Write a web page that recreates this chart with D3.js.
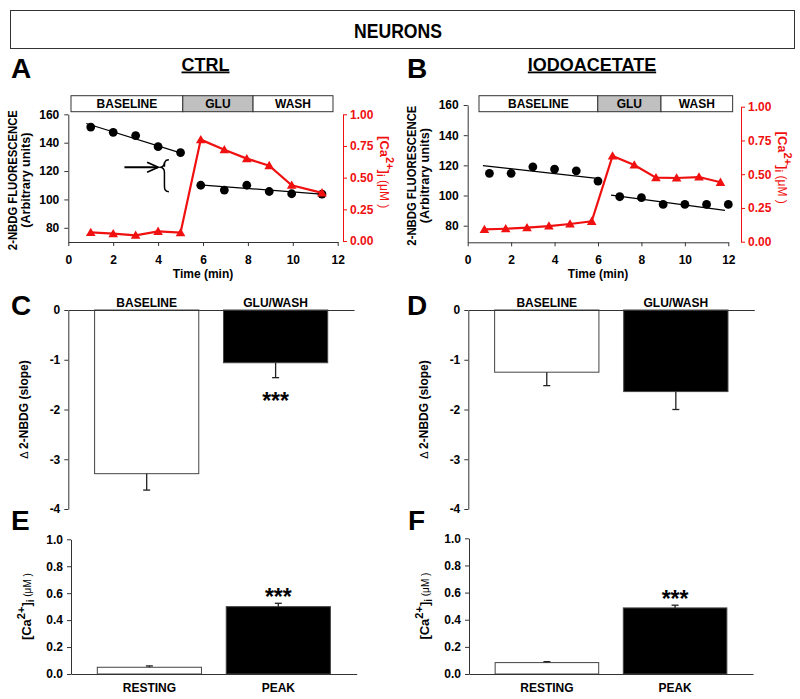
<!DOCTYPE html>
<html><head><meta charset="utf-8">
<script src="https://cdn.jsdelivr.net/npm/d3@7"></script>
<style>
body{margin:0;background:#fff;}
svg{display:block;font-family:"Liberation Sans",Arial,Helvetica,sans-serif;}
</style></head><body>
<svg id="c" width="800" height="699"></svg>
<script>
// ---------------- DATA ----------------
const figTitle = "NEURONS";
const xTicks = [0,2,4,6,8,10,12];
const nbdgTicks = [80,100,120,140,160];
const caTicks = [0,0.25,0.5,0.75,1];

const phaseLabels = ["BASELINE","GLU","WASH"];
const ctrlPhaseEdges = [0.12,5.1,8.23,11.79];
const iodoPhaseEdges = [0.52,5.99,8.9,12.2];

// CTRL time course
const ctrlTime = [1,2,3,4,5,5.9,6.95,7.95,8.95,9.95,11.3];
const ctrlNbdg = [151,147.3,145,137.2,133,110,106.6,110,105.6,104,103.8];
const ctrlCa   = [0.068,0.058,0.045,0.076,0.066,0.80,0.72,0.65,0.595,0.44,0.38];
const ctrlFit1 = [[0.8,153.5],[5.1,132.3]];
const ctrlFit2 = [[5.85,110.3],[11.4,103.6]];

// IODOACETATE time course
const iodoTime   = [1,2,3,4,5,6,7,8,9,10,11,12];
const iodoNbdg   = [114.7,114.7,119,117.5,116.4,109.6,99.2,98.6,94.1,94.1,94.1,94.1];
const iodoCaTime = [0.77,1.75,2.73,3.74,4.71,5.71,6.67,7.67,8.67,9.62,10.65,11.64];
const iodoCa     = [0.091,0.096,0.104,0.116,0.131,0.151,0.635,0.568,0.474,0.472,0.479,0.44];
const iodoFit1 = [[0.7,119.8],[5.95,111.4]];
const iodoFit2 = [[6.6,100.3],[11.85,90.2]];

// Slope bars (C, D)
const slopeCats = ["BASELINE","GLU/WASH"];
const slopeTicks = [0,-1,-2,-3,-4];
const ctrlSlope = [-3.29,-1.06];
const ctrlSlopeErr = [0.33,0.30];
const ctrlSlopeSig = ["","***"];
const iodoSlope = [-1.25,-1.64];
const iodoSlopeErr = [0.27,0.36];
const iodoSlopeSig = ["",""];

// Calcium bars (E, F)
const caCats = ["RESTING","PEAK"];
const caBarTicks = [0,0.2,0.4,0.6,0.8,1.0];
const ctrlCaBar = [0.05,0.50];
const ctrlCaBarErr = [0.01,0.025];
const ctrlCaSig = ["","***"];
const iodoCaBar = [0.084,0.487];
const iodoCaBarErr = [0.007,0.02];
const iodoCaSig = ["","***"];

// ---------------- DRAW ----------------
const svg = d3.select("#c");
const RED = "#f01010";
const AX = "#333";

// figure title box
svg.append("rect").attr("x",10.5).attr("y",10.5).attr("width",784).attr("height",38)
  .attr("fill","#fff").attr("stroke",AX);
svg.append("text").attr("x",398).attr("y",38).attr("text-anchor","middle")
  .attr("font-size",20).attr("font-weight","bold").attr("textLength",88)
  .attr("lengthAdjust","spacingAndGlyphs").text(figTitle);

function styleAxis(g, color){
  g.selectAll("path.domain").attr("stroke",color||AX);
  g.selectAll(".tick line").attr("stroke",color||AX);
  g.selectAll(".tick text").attr("font-size",12).attr("font-weight","bold")
    .attr("font-family",'"Liberation Sans",Arial,sans-serif').attr("fill",color||"#000");
}

function letter(txt,x,y){
  svg.append("text").attr("x",x).attr("y",y).attr("font-size",28).attr("font-weight","bold").text(txt);
}

function tsPanel(o){
  const g = svg.append("g");
  const x = d3.scaleLinear().domain([0,12]).range(o.xr);
  const yl = d3.scaleLinear().domain(o.ld).range(o.lr);
  const yr = d3.scaleLinear().domain([0,1]).range(o.rr);

  // title
  g.append("text").attr("x",o.titleX).attr("y",70.5).attr("text-anchor","middle")
    .attr("font-size",18).attr("font-weight","bold").attr("text-decoration","underline").text(o.title);

  // phase boxes
  const ph = phaseLabels.map((l,i)=>({l, s:o.phases[i], e:o.phases[i+1]}));
  g.selectAll("rect.ph").data(ph).join("rect").attr("class","ph")
    .attr("x",d=>x(d.s)).attr("width",d=>x(d.e)-x(d.s))
    .attr("y",95.7).attr("height",16)
    .attr("fill",d=>d.l==="GLU"?"#c0c0c0":"#fff").attr("stroke",AX);
  g.selectAll("text.ph").data(ph).join("text").attr("class","ph")
    .attr("x",d=>(x(d.s)+x(d.e))/2).attr("y",108.2).attr("text-anchor","middle")
    .attr("font-size",12).attr("font-weight","bold").text(d=>d.l);

  // axes
  const xa = g.append("g").attr("transform",`translate(0,${o.lr[0]})`)
    .call(d3.axisBottom(x).tickValues(xTicks).tickSize(4).tickSizeOuter(0).tickPadding(9).tickFormat(d3.format("d")));
  styleAxis(xa);
  const la = g.append("g").attr("transform",`translate(${o.xr[0]},0)`)
    .call(d3.axisLeft(yl).tickValues(nbdgTicks).tickSize(4).tickSizeOuter(0).tickPadding(5));
  styleAxis(la);
  const ra = g.append("g").attr("transform",`translate(${o.rx},0)`)
    .call(d3.axisRight(yr).tickValues(caTicks).tickSize(4).tickSizeOuter(0).tickPadding(3).tickFormat(d3.format(".2f")));
  styleAxis(ra, RED);

  // axis titles
  const ym = (o.lr[0]+o.lr[1])/2;
  g.append("text").attr("transform",`translate(${o.xr[0]-51.6},${ym+2}) rotate(-90)`).attr("text-anchor","middle")
    .attr("font-size",12).attr("font-weight","bold").attr("textLength",140)
    .attr("lengthAdjust","spacingAndGlyphs").text("2-NBDG FLUORESCENCE");
  g.append("text").attr("transform",`translate(${o.xr[0]-38.5},${ym+2}) rotate(-90)`).attr("text-anchor","middle")
    .attr("font-size",12).attr("font-weight","bold").attr("textLength",95)
    .attr("lengthAdjust","spacingAndGlyphs").text("(Arbitrary units)");
  g.append("text").attr("x",(o.xr[0]+o.xr[1])/2).attr("y",278).attr("text-anchor","middle")
    .attr("font-size",12).attr("font-weight","bold").text("Time (min)");
  const rl = g.append("text").attr("transform",`translate(${o.rx+37},${ym-6}) rotate(90)`)
    .attr("text-anchor","middle").attr("fill",RED).attr("font-size",13).attr("font-weight","bold");
  rl.append("tspan").text("[Ca");
  rl.append("tspan").attr("font-size",11).attr("dy",-6).text("2+");
  rl.append("tspan").attr("dy",6).text("]");
  rl.append("tspan").attr("font-size",10).attr("dy",3).text("i");
  rl.append("tspan").attr("dy",-3).attr("font-weight","normal").attr("font-size",12).text("  (\u03bcM )");

  // fit lines
  const ln = d3.line().x(d=>x(d[0])).y(d=>yl(d[1]));
  g.selectAll("path.fit").data(o.fits).join("path").attr("class","fit")
    .attr("d",ln).attr("stroke","#000").attr("stroke-width",1.2).attr("fill","none");
  // circles
  g.selectAll("circle.pt").data(o.nbdg).join("circle").attr("class","pt")
    .attr("cx",(d,i)=>x(o.time[i])).attr("cy",d=>yl(d)).attr("r",4.4).attr("fill","#000");
  // calcium line
  const caPts = o.ca.map((v,i)=>[o.caTime[i],v]);
  g.append("path").datum(caPts).attr("d",d3.line().x(d=>x(d[0])).y(d=>yr(d[1])))
    .attr("stroke",RED).attr("stroke-width",2.2).attr("fill","none");
  g.selectAll("path.tri").data(caPts).join("path").attr("class","tri")
    .attr("transform",d=>`translate(${x(d[0])},${yr(d[1])+0.8})`)
    .attr("d",d3.symbol(d3.symbolTriangle,40)).attr("fill",RED);

  if(o.annot){
    const a = o.annot;
    const ay = yl(a.arrowV);
    g.append("line").attr("x1",x(a.arrowT0)).attr("x2",x(a.arrowT1)).attr("y1",ay).attr("y2",ay)
      .attr("stroke","#000").attr("stroke-width",2);
    g.append("path").attr("d",`M${x(a.arrowT1)-11},${ay-5}L${x(a.arrowT1)},${ay}L${x(a.arrowT1)-11},${ay+5}`)
      .attr("stroke","#000").attr("stroke-width",1.8).attr("fill","none");
    const bx = x(a.braceT), bx2 = x(a.braceT2), bm=x(a.braceT)+ (bx2-x(a.braceT))*0.45;
    const yt = yl(a.braceTop), yb = yl(a.braceBot), yc = yl(a.arrowV);
    g.append("path").attr("d",
      `M${bx2},${yt} C${bm},${yt} ${bm},${yt+3} ${bm},${yt+7} L${bm},${yc-5} C${bm},${yc-1} ${bx},${yc} ${bx},${yc}`+
      ` C${bx},${yc} ${bm},${yc+1} ${bm},${yc+5} L${bm},${yb-7} C${bm},${yb-3} ${bm},${yb} ${bx2},${yb}`)
      .attr("stroke","#000").attr("stroke-width",1.5).attr("fill","none");
  }
}

tsPanel({xr:[68.3,337.7], ld:[70,160], lr:[242,114.3], rr:[241,114.3], rx:343,
  title:"CTRL", titleX:205.5, phases:ctrlPhaseEdges,
  time:ctrlTime, nbdg:ctrlNbdg, caTime:ctrlTime, ca:ctrlCa, fits:[ctrlFit1,ctrlFit2],
  annot:{arrowT0:2.5, arrowT1:4.0, arrowV:122.7, braceT:4.12, braceT2:4.48, braceTop:128, braceBot:105.5}});
tsPanel({xr:[467.7,728.3], ld:[69,160], lr:[242.3,105], rr:[241.7,106.7], rx:741,
  title:"IODOACETATE", titleX:592, phases:iodoPhaseEdges,
  time:iodoTime, nbdg:iodoNbdg, caTime:iodoCaTime, ca:iodoCa, fits:[iodoFit1,iodoFit2]});

function barPanel(o){
  const g = svg.append("g");
  const x = d3.scaleBand().domain(o.cats).range(o.xr).paddingInner(0.192).paddingOuter(0.204);
  const y = d3.scaleLinear().domain(o.yd).range(o.yr);
  const fills = ["#fff","#000"];
  // bars
  g.selectAll("rect.bar").data(o.vals).join("rect").attr("class","bar")
    .attr("x",(d,i)=>x(o.cats[i])).attr("width",x.bandwidth())
    .attr("y",d=>Math.min(y(d),y(0))).attr("height",d=>Math.abs(y(d)-y(0)))
    .attr("fill",(d,i)=>fills[i]).attr("stroke","#444").attr("stroke-width",1);
  // error bars
  const eb = o.vals.map((v,i)=>({cx:x(o.cats[i])+x.bandwidth()/2, v, e:v+Math.sign(v)*o.errs[i], sig:o.sig[i]}));
  g.selectAll("line.eb").data(eb).join("line").attr("class","eb")
    .attr("x1",d=>d.cx).attr("x2",d=>d.cx).attr("y1",d=>y(d.v)).attr("y2",d=>y(d.e))
    .attr("stroke","#222").attr("stroke-width",1.3);
  g.selectAll("line.cap").data(eb).join("line").attr("class","cap")
    .attr("x1",d=>d.cx-3.5).attr("x2",d=>d.cx+3.5).attr("y1",d=>y(d.e)).attr("y2",d=>y(d.e))
    .attr("stroke","#222").attr("stroke-width",1.3);
  g.selectAll("text.sig").data(eb.filter(d=>d.sig)).join("text").attr("class","sig")
    .attr("x",d=>d.cx).attr("y",d=>y(d.e)+(d.v<0?31.8:2))
    .attr("text-anchor","middle").attr("font-size",23).attr("font-weight","bold").text(d=>d.sig);
  // axes
  const ya = g.append("g").attr("transform",`translate(${o.xr[0]},0)`)
    .call(d3.axisLeft(y).tickValues(o.ticks).tickSize(4).tickSizeOuter(0).tickPadding(4)
      .tickFormat(o.fmt));
  styleAxis(ya);
  const ca = g.append("g").attr("transform",`translate(0,${y(0)})`)
    .call((o.top?d3.axisTop(x).tickPadding(3):d3.axisBottom(x).tickPadding(9)).tickSize(0).tickSizeOuter(0));
  styleAxis(ca);
  // y title
  const ym = (o.yr[0]+o.yr[1])/2;
  const t = g.append("text").attr("transform",`translate(${o.xr[0]-40},${ym}) rotate(-90)`)
    .attr("text-anchor","middle").attr("font-weight","bold").attr("font-size",12);
  if(o.caLabel){
    t.append("tspan").attr("font-size",13).text("[Ca");
    t.append("tspan").attr("font-size",11).attr("dy",-6).text("2+");
    t.append("tspan").attr("font-size",13).attr("dy",6).text("]");
    t.append("tspan").attr("font-size",10).attr("dy",3).text("i");
    t.append("tspan").attr("dy",-3).attr("font-weight","normal").attr("font-size",10).text(" (\u03bcM )");
  } else {
    t.append("tspan").attr("font-weight","normal").attr("font-size",11).text("\u0394 ");
    t.append("tspan").text("2-NBDG (slope)");
  }
}

barPanel({xr:[68.3,354], yd:[-4,0], yr:[509,310], cats:slopeCats, vals:ctrlSlope, errs:ctrlSlopeErr,
  sig:ctrlSlopeSig, ticks:slopeTicks, fmt:d=>String(d), top:true});
barPanel({xr:[468.3,754.3], yd:[-4,0], yr:[509,310], cats:slopeCats, vals:iodoSlope, errs:iodoSlopeErr,
  sig:iodoSlopeSig, ticks:slopeTicks, fmt:d=>String(d), top:true});
barPanel({xr:[71,356.7], yd:[0,1], yr:[674,539.3], cats:caCats, vals:ctrlCaBar, errs:ctrlCaBarErr,
  sig:ctrlCaSig, ticks:caBarTicks, fmt:d3.format(".1f"), top:false, caLabel:true});
barPanel({xr:[469,753], yd:[0,1], yr:[674,538.3], cats:caCats, vals:iodoCaBar, errs:iodoCaBarErr,
  sig:iodoCaSig, ticks:caBarTicks, fmt:d3.format(".1f"), top:false, caLabel:true});

letter("A",11,78); letter("B",407,78);
letter("C",11,315); letter("D",407,315);
letter("E",11,530); letter("F",408,530);
</script>
</body></html>
